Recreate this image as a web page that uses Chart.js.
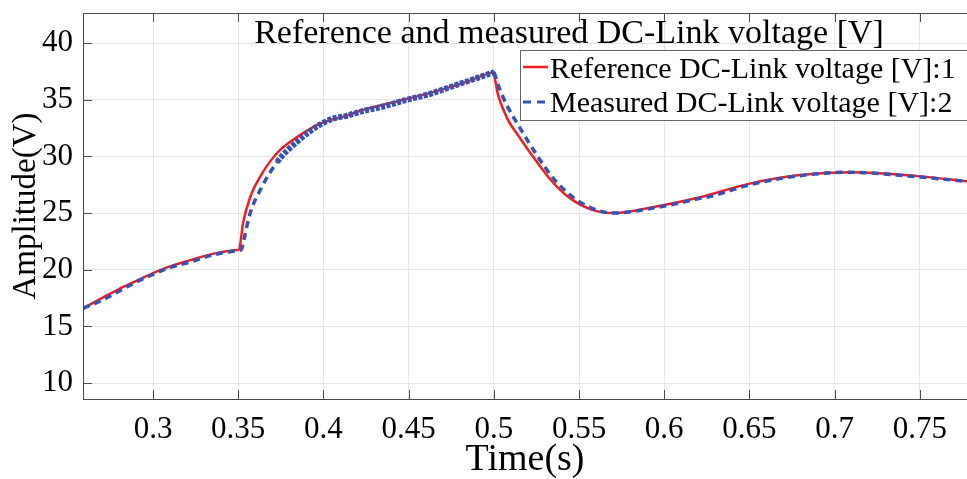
<!DOCTYPE html>
<html>
<head>
<meta charset="utf-8">
<script src="https://cdn.jsdelivr.net/npm/chart.js@4/dist/chart.umd.min.js"></script>
<style>
  html, body { margin: 0; padding: 0; background: #fff; overflow: hidden; }
  #wrap { position: relative; width: 967px; height: 479px; }
</style>
</head>
<body>
<div id="wrap"><canvas id="dcChart"></canvas></div>
<script>
// ─── Data ───────────────────────────────────────────────────────────────────
const refTime = [0.259, 0.27, 0.28, 0.29, 0.3, 0.31, 0.322, 0.335, 0.3495, 0.3505,
  0.3528, 0.357, 0.3628, 0.3728, 0.3845, 0.398, 0.4138, 0.4232, 0.449, 0.4684,
  0.486, 0.4977, 0.4995, 0.5025, 0.5077, 0.5154, 0.5253, 0.5347, 0.5447, 0.5564,
  0.570, 0.5993, 0.621, 0.6503, 0.6797, 0.709, 0.7484, 0.7777];
const refVolt = [16.6, 17.5, 18.3, 19.0, 19.7, 20.3, 20.85, 21.4, 21.75, 21.8,
  24.1, 26.4, 28.2, 30.3, 31.7, 32.9, 33.6, 34.1, 35.06, 35.85,
  36.7, 37.35, 37.4, 35.4, 33.4, 31.6, 29.5, 27.7, 26.3, 25.35,
  25.0, 25.7, 26.4, 27.6, 28.35, 28.6, 28.26, 27.8];

const measTime = [0.259, 0.27, 0.28, 0.29, 0.3, 0.31, 0.322, 0.335, 0.35, 0.352,
  0.3528, 0.357, 0.3628, 0.3728, 0.3845, 0.398, 0.405, 0.414, 0.423, 0.435,
  0.449, 0.46, 0.4684, 0.478, 0.486, 0.4977, 0.5, 0.5025, 0.5077, 0.5154,
  0.5253, 0.5347, 0.5447, 0.5564, 0.570, 0.5993, 0.621, 0.628, 0.6503, 0.6797,
  0.709, 0.7484, 0.7777];
const measVolt = [16.6, 17.3, 18.1, 18.9, 19.6, 20.2, 20.7, 21.3, 21.7, 21.8,
  22.3, 25.0, 27.0, 29.5, 31.3, 32.8, 33.3, 33.6, 34.0, 34.4,
  35.0, 35.4, 35.8, 36.3, 36.7, 37.3, 37.4, 36.3, 34.5, 32.5,
  30.1, 28.1, 26.6, 25.5, 25.0, 25.6, 26.3, 26.5, 27.5, 28.3,
  28.6, 28.2, 27.8];

const xTicks = [0.3, 0.35, 0.4, 0.45, 0.5, 0.55, 0.6, 0.65, 0.7, 0.75];
const yTicks = [10, 15, 20, 25, 30, 35, 40];

const seriesNames = ['Reference DC-Link voltage [V]:1', 'Measured DC-Link voltage [V]:2'];
const chartTitle  = 'Reference and measured DC-Link voltage [V]';

// ─── Style ──────────────────────────────────────────────────────────────────
const FONT   = "'Liberation Serif', 'Times New Roman', serif";
const RED    = '#f01e23';
const BLUE   = '#3553b5';
const AXIS   = '#4a4a4a';
const GRID   = '#e6e6e6';

const toPoints = (xs, ys) => xs.map((x, i) => ({ x, y: ys[i] }));

// measured trace is a noisy thick band between ~0.375 s and 0.5 s
const inNoisyBand = ctx => ctx.p0.parsed.x >= 0.372 && ctx.p1.parsed.x <= 0.5;

// MATLAB-style box with inward ticks
const boxPlugin = {
  id: 'matlabBox',
  afterDatasetsDraw(chart) {
    const { ctx, chartArea: a, scales } = chart;
    ctx.save();
    ctx.strokeStyle = AXIS;
    ctx.lineWidth = 1;
    ctx.strokeRect(a.left + 0.5, a.top + 0.5, a.right - a.left + 4, a.bottom - a.top);
    ctx.beginPath();
    xTicks.forEach(v => {
      const x = Math.round(scales.x.getPixelForValue(v)) + 0.5;
      ctx.moveTo(x, a.bottom); ctx.lineTo(x, a.bottom - 9);
      ctx.moveTo(x, a.top);    ctx.lineTo(x, a.top + 9);
    });
    yTicks.forEach(v => {
      const y = Math.round(scales.y.getPixelForValue(v)) + 0.5;
      ctx.moveTo(a.left, y); ctx.lineTo(a.left + 9, y);
    });
    ctx.stroke();
    ctx.restore();
  },
};

// Title inside plot + legend box
const overlayPlugin = {
  id: 'overlay',
  afterDraw(chart) {
    const { ctx } = chart;
    ctx.save();
    ctx.fillStyle = '#000';
    ctx.font = `34px ${FONT}`;
    ctx.textAlign = 'center';
    ctx.textBaseline = 'alphabetic';
    ctx.fillText(chartTitle, 569, 43);

    // legend
    const lx = 520, ly = 50, lw = 460, lh = 70;
    ctx.fillStyle = '#fff';
    ctx.fillRect(lx, ly, lw, lh);
    ctx.strokeStyle = '#666';
    ctx.lineWidth = 1;
    ctx.strokeRect(lx + 0.5, ly + 0.5, lw, lh);

    ctx.lineWidth = 2.5;
    ctx.strokeStyle = RED;
    ctx.beginPath(); ctx.moveTo(523, 67); ctx.lineTo(548, 67); ctx.stroke();
    ctx.strokeStyle = BLUE;
    ctx.lineWidth = 3;
    ctx.setLineDash([8, 6]);
    ctx.beginPath(); ctx.moveTo(523, 102); ctx.lineTo(550, 102); ctx.stroke();
    ctx.setLineDash([]);

    ctx.fillStyle = '#000';
    ctx.font = `30px ${FONT}`;
    ctx.textAlign = 'left';
    ctx.fillText(seriesNames[0], 550, 78);
    ctx.fillText(seriesNames[1], 550, 112);
    ctx.restore();
  },
};

new Chart(document.getElementById('dcChart'), {
  type: 'line',
  data: {
    datasets: [
      {
        label: seriesNames[0],
        data: toPoints(refTime, refVolt),
        borderColor: RED,
        borderWidth: 2.5,
        pointRadius: 0,
        cubicInterpolationMode: 'monotone',
        order: 1,
      },
      {
        label: seriesNames[1],
        data: toPoints(measTime, measVolt),
        borderColor: BLUE,
        borderWidth: 3.5,
        borderDash: [7, 5],
        pointRadius: 0,
        cubicInterpolationMode: 'monotone',
        segment: {
          borderWidth: c => inNoisyBand(c) ? 6 : 3.5,
          borderDash: c => inNoisyBand(c) ? [4, 1.5] : [7, 5],
        },
        order: 0,
      },
    ],
  },
  options: {
    responsive: true,
    maintainAspectRatio: false,
    animation: false,
    layout: { padding: { top: 13, right: 0, left: 0, bottom: 0 } },
    plugins: { legend: { display: false }, tooltip: { enabled: false } },
    scales: {
      x: {
        type: 'linear',
        min: 0.2589,
        max: 0.7777,
        afterBuildTicks(s) { s.ticks = xTicks.map(v => ({ value: v })); },
        afterFit(s) { s.height = 80; s.paddingLeft = 0; s.paddingRight = 0; },
        grid: { color: GRID, drawTicks: false },
        border: { display: true, color: AXIS },
        ticks: {
          color: '#000',
          padding: 12,
          maxRotation: 0,
          font: { family: FONT, size: 31 },
          callback: v => String(v),
        },
        title: {
          display: true,
          text: 'Time(s)',
          color: '#000',
          font: { family: FONT, size: 38, lineHeight: 1 },
          padding: 0,
        },
      },
      y: {
        min: 8.6,
        max: 42.65,
        afterBuildTicks(s) { s.ticks = yTicks.map(v => ({ value: v })); },
        afterFit(s) { s.width = 83; s.paddingTop = 0; s.paddingBottom = 0; },
        grid: { color: GRID, drawTicks: false },
        border: { display: true, color: AXIS },
        ticks: {
          color: '#000',
          padding: 10,
          font: { family: FONT, size: 31 },
        },
        title: {
          display: true,
          text: 'Amplitude(V)',
          color: '#000',
          font: { family: FONT, size: 33, lineHeight: 1 },
          padding: { top: 10, bottom: 0 },
        },
      },
    },
  },
  plugins: [boxPlugin, overlayPlugin],
});
</script>
</body>
</html>
